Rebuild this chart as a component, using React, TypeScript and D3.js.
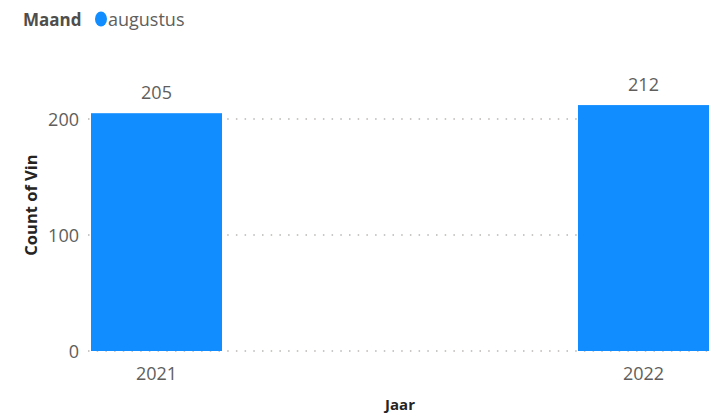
import React from "react";
import * as d3 from "d3";

const years = ["2021", "2022"];
const counts = [205, 212];
const yTicks = [0, 100, 200];
const legendTitle = "Maand";
const legendItem = "augustus";
const yTitle = "Count of Vin";
const xTitle = "Jaar";

const W = 716, H = 413;
const font = "'Open Sans', 'Segoe UI', sans-serif";
const textColor = "#605E5C";
const barColor = "#118DFF";

export default function App() {
  const x = d3.scaleBand<string>().domain(years).range([91, 709]).paddingInner(0.731).paddingOuter(0);
  const y = d3.scaleLinear().domain([0, 100]).range([351, 235]);
  return (
    <svg width={W} height={H} style={{ position: "absolute", left: 0, top: 0, background: "#fff" }}>
      <text x={23} y={26} fontFamily={font} fontWeight={700} fontSize={17} fill="#504e4c">{legendTitle}</text>
      <ellipse cx={101} cy={19} rx={6} ry={7.5} fill={barColor} />
      <text x={108} y={26} fontFamily={font} fontSize={18} fill={textColor}>{legendItem}</text>
      {yTicks.map(t => (
        <g key={t}>
          <line x1={88} x2={709} y1={y(t)} y2={y(t)} stroke="#b8b6b4" strokeWidth={1.5} strokeDasharray="1.5 7.2" />
          <text x={79} y={y(t) + 7} textAnchor="end" fontFamily={font} fontSize={18} fill={textColor}>{t}</text>
        </g>
      ))}
      {years.map((yr, i) => (
        <g key={yr}>
          <rect x={x(yr)} y={y(counts[i])} width={x.bandwidth()} height={y(0) - y(counts[i])} fill={barColor} />
          <text x={x(yr)! + x.bandwidth() / 2} y={y(counts[i]) - 14} textAnchor="middle" fontFamily={font} fontSize={18} fill={textColor}>{counts[i]}</text>
          <text x={x(yr)! + x.bandwidth() / 2} y={380} textAnchor="middle" fontFamily={font} fontSize={18} fill={textColor}>{yr}</text>
        </g>
      ))}
      <text transform="translate(37,205) rotate(-90)" textAnchor="middle" fontFamily={font} fontWeight={700} fontSize={16.5} fill="#252423">{yTitle}</text>
      <text x={400} y={410} textAnchor="middle" fontFamily={font} fontWeight={700} fontSize={15} fill="#252423">{xTitle}</text>
    </svg>
  );
}
